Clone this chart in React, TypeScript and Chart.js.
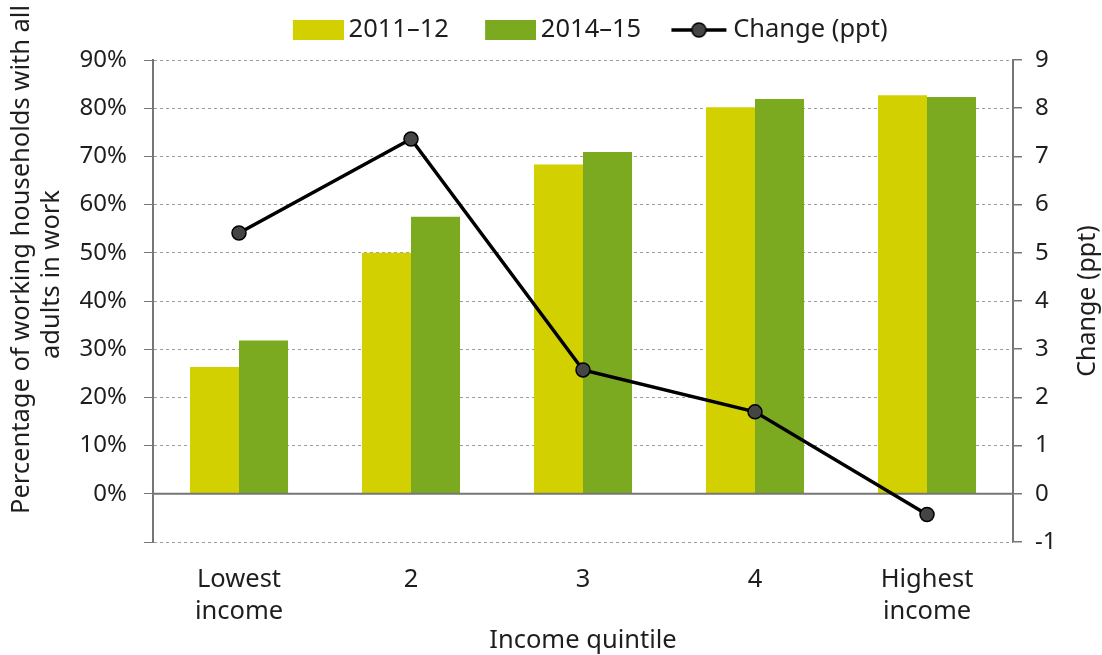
import React, { useEffect, useRef } from 'react';
import { Chart, registerables } from 'chart.js';

Chart.register(...registerables);

const categories: (string | string[])[] = [['Lowest', 'income'], '2', '3', '4', ['Highest', 'income']];
const series2011 = [26.3, 50.0, 68.3, 80.2, 82.7];
const series2014 = [31.8, 57.5, 70.9, 81.9, 82.3];
const changePpt = [5.41, 7.36, 2.57, 1.7, -0.43];
const seriesLabels = ['2011\u201312', '2014\u201315', 'Change (ppt)'];
const leftAxisTitle = ['Percentage of working households with all', 'adults in work'];
const rightAxisTitle = 'Change (ppt)';
const xAxisTitle = 'Income quintile';

const YELLOW = '#d2d000';
const GREEN = '#7ba920';
const FONT = 'Noto Sans';
const TEXT = '#1e1e1e';
const AXIS = '#767676';

function makeBoxIcon(color: string) {
  const c = document.createElement('canvas');
  c.width = 78;
  c.height = 20;
  const g = c.getContext('2d')!;
  g.fillStyle = color;
  g.fillRect(27, 0, 51, 20);
  return c;
}

function makeLineIcon() {
  const c = document.createElement('canvas');
  c.width = 78;
  c.height = 20;
  const g = c.getContext('2d')!;
  g.strokeStyle = '#000';
  g.lineWidth = 3.5;
  g.beginPath();
  g.moveTo(21, 10);
  g.lineTo(76, 10);
  g.stroke();
  g.beginPath();
  g.arc(48.5, 10, 7, 0, Math.PI * 2);
  g.fillStyle = '#454545';
  g.fill();
  g.lineWidth = 1.5;
  g.stroke();
  return c;
}

export default function App() {
  const ref = useRef<HTMLCanvasElement | null>(null);

  useEffect(() => {
    document.body.style.margin = '0';
    const canvas = ref.current;
    if (!canvas) return;
    const icons = [makeBoxIcon(YELLOW), makeBoxIcon(GREEN), makeLineIcon()];

    const legendGap = {
      id: 'legendGap',
      beforeLayout(chart: any) {
        const lg = chart.legend;
        if (!lg || lg.__gapPatched) return;
        const orig = lg.fit.bind(lg);
        lg.fit = () => {
          orig();
          lg.height += 7.25;
        };
        lg.__gapPatched = true;
      },
    };

    const zeroLine = {
      id: 'zeroLine',
      beforeDatasetDraw(chart: any, args: any) {
        if (args.index !== 2) return;
        const { ctx, chartArea } = chart;
        const y = chart.scales.y.getPixelForValue(0);
        ctx.save();
        ctx.strokeStyle = AXIS;
        ctx.lineWidth = 2;
        ctx.beginPath();
        ctx.moveTo(chartArea.left, y);
        ctx.lineTo(chartArea.right, y);
        ctx.stroke();
        ctx.restore();
      },
    };

    const leftTitleOffsets = [-41.5, -26.5];

    const axisTitles = {
      id: 'axisTitles',
      afterDraw(chart: any) {
        const { ctx, chartArea } = chart;
        const midY = (chartArea.top + chartArea.bottom) / 2;
        ctx.save();
        ctx.fillStyle = TEXT;
        ctx.textAlign = 'center';
        ctx.textBaseline = 'middle';
        ctx.font = `25.5px "${FONT}"`;
        leftAxisTitle.forEach((t, i) => {
          ctx.save();
          ctx.translate(22 + i * 30, midY + leftTitleOffsets[i]);
          ctx.rotate(-Math.PI / 2);
          ctx.fillText(t, 0, 0);
          ctx.restore();
        });
        ctx.save();
        ctx.font = `25px "${FONT}"`;
        ctx.translate(chart.width - 14, midY);
        ctx.rotate(-Math.PI / 2);
        ctx.fillText(rightAxisTitle, 0, 0);
        ctx.restore();
        ctx.restore();
      },
    };

    const chart = new Chart(canvas, {
      type: 'bar',
      data: {
        labels: categories,
        datasets: [
          {
            type: 'bar',
            label: seriesLabels[0],
            data: series2011,
            backgroundColor: YELLOW,
            yAxisID: 'y',
            order: 1,
            categoryPercentage: 0.57,
            barPercentage: 1,
          },
          {
            type: 'bar',
            label: seriesLabels[1],
            data: series2014,
            backgroundColor: GREEN,
            yAxisID: 'y',
            order: 1,
            categoryPercentage: 0.57,
            barPercentage: 1,
          },
          {
            type: 'line',
            label: seriesLabels[2],
            data: changePpt,
            yAxisID: 'y1',
            order: 0,
            borderColor: '#000',
            borderWidth: 3.5,
            pointRadius: 7,
            pointBackgroundColor: '#454545',
            pointBorderColor: '#000',
            pointBorderWidth: 1.5,
            tension: 0,
          } as any,
        ],
      },
      options: {
        responsive: false,
        animation: false,
        layout: { padding: { top: 0, left: 59.5, right: 0, bottom: 0 } },
        font: { family: FONT } as any,
        plugins: {
          tooltip: { enabled: false },
          legend: {
            position: 'top',
            labels: {
              usePointStyle: true,
              pointStyleWidth: 62,
              boxHeight: 20,
              padding: 17.25,
              color: TEXT,
              font: { family: FONT, size: 25.5 },
              generateLabels: (c: any) =>
                c.data.datasets.map((ds: any, i: number) => ({
                  text: ds.label,
                  pointStyle: icons[i],
                  datasetIndex: i,
                  hidden: false,
                  fillStyle: 'transparent',
                  strokeStyle: 'transparent',
                  lineWidth: 0,
                  fontColor: TEXT,
                })),
            },
          },
        },
        scales: {
          x: {
            grid: { display: false },
            border: { display: false },
            ticks: {
              padding: 14,
              color: TEXT,
              maxRotation: 0,
              font: { family: FONT, size: 25.5, lineHeight: 1.255 },
            },
            title: {
              display: true,
              text: xAxisTitle,
              color: TEXT,
              font: { family: FONT, size: 25.5, lineHeight: 1.1 },
              padding: { top: 0, bottom: 0 },
            },
            afterFit: (s: any) => {
              s.height = 113;
            },
          },
          y: {
            position: 'left',
            min: -10,
            max: 90,
            ticks: {
              stepSize: 10,
              padding: 17,
              color: TEXT,
              font: { family: FONT, size: 24 },
              callback: (v: any) => (Number(v) < 0 ? '' : `${v}%`),
            },
            grid: {
              color: (ctx: any) => (ctx.tick && ctx.tick.value === 0 ? 'rgba(0,0,0,0)' : '#9c9c9c'),
              lineWidth: 1,
              tickLength: 9,
              tickColor: AXIS,
              tickBorderDash: [],
            } as any,
            border: { display: true, color: AXIS, width: 2, dash: [3, 3] } as any,
            afterFit: (s: any) => {
              s.width = 153 - 59.5;
            },
          },
          y1: {
            position: 'right',
            min: -1,
            max: 9,
            ticks: {
              stepSize: 1,
              padding: 13,
              color: TEXT,
              font: { family: FONT, size: 24 },
            },
            grid: {
              drawOnChartArea: false,
              tickLength: 9,
              tickColor: AXIS,
              lineWidth: 1.5,
            },
            border: { display: true, color: AXIS, width: 2 },
            afterFit: (s: any) => {
              s.width = 89;
            },
          },
        },
      },
      plugins: [legendGap, zeroLine, axisTitles],
    } as any);

    return () => chart.destroy();
  }, []);

  return (
    <div style={{ width: 1102, height: 655 }}>
      <canvas ref={ref} width={1102} height={655} style={{ display: 'block' }} />
    </div>
  );
}
